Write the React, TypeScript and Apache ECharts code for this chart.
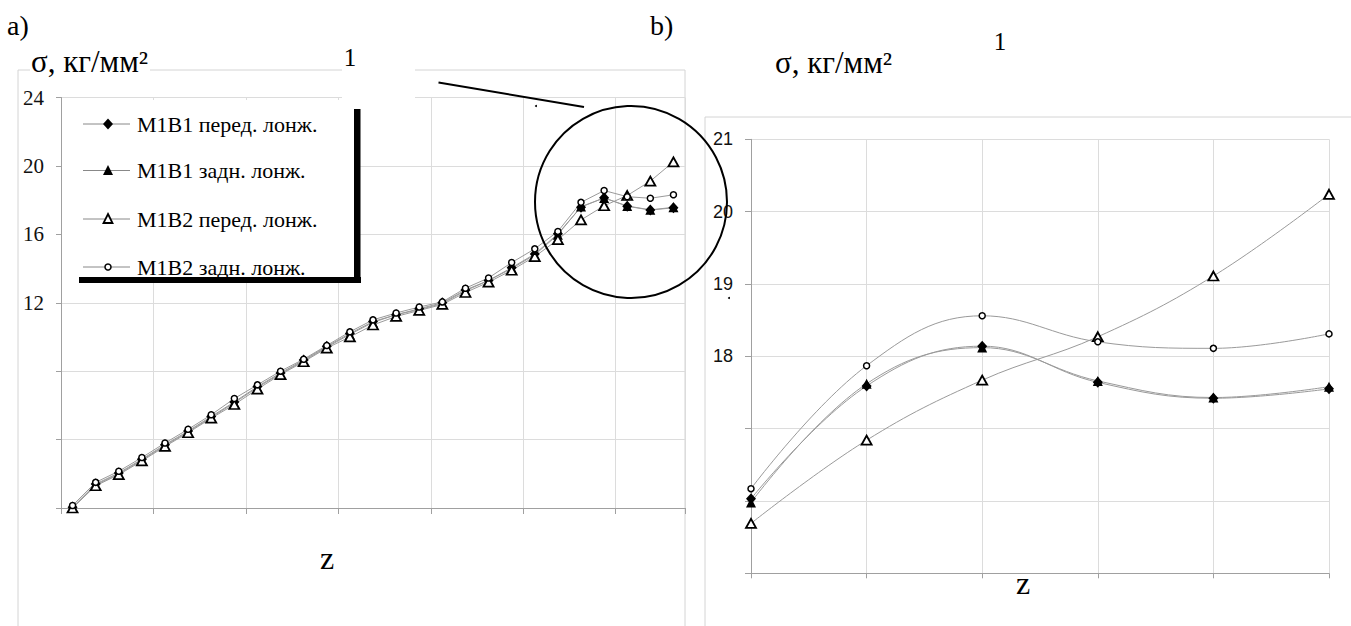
import React, { useEffect, useRef } from 'react';
import * as echarts from 'echarts';

// ---- data ----
const zCategoriesA = ['1','2','3','4','5','6','7','8','9','10','11','12','13','14','15','16','17','18','19','20','21','22','23','24','25','26','27'];
const zoomStart = 21; // chart b shows the last six points

const seriesNames = ['M1B1 перед. лонж.', 'M1B1 задн. лонж.', 'M1B2 перед. лонж.', 'M1B2 задн. лонж.'];

const m1b1Front = [0.05, 1.4, 2.05, 2.85, 3.7, 4.5, 5.35, 6.2, 7.1, 7.9, 8.65, 9.45, 10.2, 10.9, 11.3, 11.65, 12.0, 12.75, 13.3, 14.05, 14.85, 16.03, 17.59, 18.14, 17.64, 17.42, 17.55];
const m1b1Rear = [0.0, 1.35, 2.0, 2.8, 3.65, 4.45, 5.3, 6.15, 7.05, 7.85, 8.6, 9.4, 10.15, 10.85, 11.3, 11.6, 11.95, 12.7, 13.3, 14.0, 14.8, 15.98, 17.62, 18.12, 17.66, 17.43, 17.58];
const m1b2Front = [0.0, 1.3, 1.95, 2.75, 3.6, 4.4, 5.25, 6.05, 6.95, 7.8, 8.55, 9.35, 10.0, 10.7, 11.2, 11.55, 11.9, 12.6, 13.2, 13.9, 14.7, 15.69, 16.84, 17.67, 18.27, 19.11, 20.24];
const m1b2Rear = [0.15, 1.5, 2.15, 2.95, 3.8, 4.6, 5.45, 6.4, 7.2, 8.0, 8.7, 9.5, 10.3, 11.0, 11.4, 11.75, 12.05, 12.85, 13.45, 14.35, 15.15, 16.17, 17.87, 18.56, 18.2, 18.11, 18.31];

const yLabelsA = [12, 16, 20, 24];
const yLabelsB = [18, 19, 20, 21];

const SERIF = 'Liberation Serif, serif';
const SANS = 'Liberation Sans, sans-serif';
const LINE_COLOR = '#9a9a9a';
const GRID_COLOR = '#dcdcdc';
const AXIS_COLOR = '#a0a0a0';

type MarkerDef = { symbol: string; size: number | number[]; itemStyle: any };
const markers: MarkerDef[] = [
  { symbol: 'diamond', size: [10, 11], itemStyle: { color: '#000' } },
  { symbol: 'triangle', size: [10, 10], itemStyle: { color: '#000' } },
  { symbol: 'triangle', size: [10, 9], itemStyle: { color: '#fff', borderColor: '#000', borderWidth: 1.8 } },
  { symbol: 'circle', size: 6, itemStyle: { color: '#fff', borderColor: '#000', borderWidth: 1.5 } },
];

const allData = [m1b1Front, m1b1Rear, m1b2Front, m1b2Rear];

export default function App() {
  const ref = useRef<HTMLDivElement>(null);

  useEffect(() => {
    if (!ref.current) return;
    const chart = echarts.init(ref.current, undefined, { renderer: 'svg' });

    const seriesA = allData.map((d, i) => ({
      type: 'line',
      name: seriesNames[i],
      xAxisIndex: 0,
      yAxisIndex: 0,
      data: d,
      symbol: markers[i].symbol,
      symbolSize: markers[i].size,
      itemStyle: markers[i].itemStyle,
      lineStyle: { color: LINE_COLOR, width: 1 },
      emphasis: { disabled: true },
      z: 3,
    }));
    const seriesB = allData.map((d, i) => ({
      type: 'line',
      name: seriesNames[i] + ' (b)',
      xAxisIndex: 1,
      yAxisIndex: 1,
      data: d.slice(zoomStart),
      smooth: 0.4,
      symbol: markers[i].symbol,
      symbolSize: markers[i].size,
      itemStyle: markers[i].itemStyle,
      lineStyle: { color: LINE_COLOR, width: 1 },
      emphasis: { disabled: true },
      z: 3,
    }));

    const legendRows = [124, 170.5, 219, 267];
    const legendEls: any[] = [];
    legendRows.forEach((y, i) => {
      legendEls.push({ type: 'line', shape: { x1: 83, y1: y, x2: 130, y2: y }, style: { stroke: '#888', lineWidth: 1 }, z: 5 });
      if (i === 0) {
        legendEls.push({ type: 'polygon', shape: { points: [[108, y - 5.5], [113, y], [108, y + 5.5], [103, y]] }, style: { fill: '#000' }, z: 6 });
      } else if (i === 1) {
        legendEls.push({ type: 'polygon', shape: { points: [[108, y - 5.5], [113, y + 4.5], [103, y + 4.5]] }, style: { fill: '#000' }, z: 6 });
      } else if (i === 2) {
        legendEls.push({ type: 'polygon', shape: { points: [[108, y - 5], [112.5, y + 4], [103.5, y + 4]] }, style: { fill: '#fff', stroke: '#000', lineWidth: 1.8 }, z: 6 });
      } else {
        legendEls.push({ type: 'circle', shape: { cx: 108, cy: y, r: 3 }, style: { fill: '#fff', stroke: '#000', lineWidth: 1.5 }, z: 6 });
      }
      legendEls.push({ type: 'text', x: 137, y, style: { text: seriesNames[i], fontFamily: SERIF, fontSize: 22, fill: '#000', align: 'left', verticalAlign: 'middle' }, z: 6 });
    });

    const option: any = {
      animation: false,
      backgroundColor: '#fff',
      textStyle: { fontFamily: SERIF },
      grid: [
        { left: 61, top: 97.5, width: 624, height: 410.5 },
        { left: 751, top: 139.3, width: 578, height: 434 },
      ],
      xAxis: [
        {
          gridIndex: 0,
          type: 'category',
          data: zCategoriesA,
          boundaryGap: true,
          axisLine: { show: true, lineStyle: { color: AXIS_COLOR, width: 1 } },
          axisTick: { show: true, interval: 3, length: 6, lineStyle: { color: AXIS_COLOR } },
          axisLabel: { show: false },
          splitLine: { show: true, interval: 3, lineStyle: { color: GRID_COLOR, width: 1 } },
        },
        {
          gridIndex: 1,
          type: 'category',
          data: zCategoriesA.slice(zoomStart),
          boundaryGap: false,
          axisLine: { show: true, lineStyle: { color: AXIS_COLOR, width: 1 } },
          axisTick: { show: true, length: 5, lineStyle: { color: AXIS_COLOR } },
          axisLabel: { show: false },
          splitLine: { show: true, lineStyle: { color: GRID_COLOR, width: 1 } },
        },
      ],
      yAxis: [
        {
          gridIndex: 0,
          type: 'value',
          min: 0,
          max: 24,
          interval: 4,
          axisLine: { show: true, lineStyle: { color: AXIS_COLOR, width: 1 } },
          axisTick: { show: true, length: 5, lineStyle: { color: AXIS_COLOR } },
          axisLabel: {
            margin: 17,
            fontFamily: SERIF,
            fontSize: 21,
            color: '#111',
            formatter: (v: number) => (yLabelsA.includes(v) ? String(v) : ''),
          },
          splitLine: { show: true, lineStyle: { color: GRID_COLOR, width: 1 } },
        },
        {
          gridIndex: 1,
          type: 'value',
          min: 15,
          max: 21,
          interval: 1,
          axisLine: { show: true, lineStyle: { color: AXIS_COLOR, width: 1 } },
          axisTick: { show: true, length: 6, lineStyle: { color: AXIS_COLOR } },
          axisLabel: {
            margin: 18,
            fontFamily: SANS,
            fontSize: 18,
            color: '#111',
            formatter: (v: number) => (yLabelsB.includes(v) ? String(v) : ''),
          },
          splitLine: { show: true, lineStyle: { color: GRID_COLOR, width: 1 } },
        },
      ],
      series: [...seriesA, ...seriesB],
      graphic: [
        // frames
        { type: 'rect', shape: { x: 18, y: 70, width: 667, height: 600 }, style: { fill: 'none', stroke: '#d4d4d4', lineWidth: 1 }, z: 0 },
        { type: 'rect', shape: { x: 705, y: 117, width: 700, height: 600 }, style: { fill: 'none', stroke: '#d4d4d4', lineWidth: 1 }, z: 0 },
        // white patches
        { type: 'rect', shape: { x: 30, y: 64, width: 120, height: 12 }, style: { fill: '#fff' }, z: 1 },
        { type: 'rect', shape: { x: 342, y: 66, width: 73, height: 41 }, style: { fill: '#fff' }, z: 1 },
        // legend box
        { type: 'rect', shape: { x: 62, y: 100, width: 292, height: 177 }, style: { fill: '#fff' }, z: 4 },
        { type: 'rect', shape: { x: 354, y: 109, width: 6.5, height: 174 }, style: { fill: '#000' }, z: 5 },
        { type: 'rect', shape: { x: 79, y: 277, width: 282, height: 6 }, style: { fill: '#000' }, z: 5 },
        ...legendEls,
        // labels
        { type: 'text', x: 7, y: 25, style: { text: 'a)', fontFamily: SERIF, fontSize: 28, fill: '#000', align: 'left', verticalAlign: 'middle' }, z: 6 },
        { type: 'text', x: 650, y: 25, style: { text: 'b)', fontFamily: SERIF, fontSize: 28, fill: '#000', align: 'left', verticalAlign: 'middle' }, z: 6 },
        { type: 'text', x: 31, y: 61.5, style: { text: 'σ, кг/мм²', fontFamily: SERIF, fontSize: 31, fill: '#000', align: 'left', verticalAlign: 'middle' }, z: 6 },
        { type: 'text', x: 775, y: 62.8, style: { text: 'σ, кг/мм²', fontFamily: SERIF, fontSize: 31, fill: '#000', align: 'left', verticalAlign: 'middle' }, z: 6 },
        { type: 'text', x: 350, y: 57.5, style: { text: '1', fontFamily: SERIF, fontSize: 25, fill: '#000', align: 'center', verticalAlign: 'middle' }, z: 6 },
        { type: 'text', x: 1000, y: 41.3, style: { text: '1', fontFamily: SERIF, fontSize: 25, fill: '#000', align: 'center', verticalAlign: 'middle' }, z: 6 },
        { type: 'text', x: 327, y: 558, style: { text: 'z', fontFamily: SERIF, fontSize: 32, fill: '#000', align: 'center', verticalAlign: 'middle' }, z: 6 },
        { type: 'text', x: 1023, y: 582.5, style: { text: 'z', fontFamily: SERIF, fontSize: 32, fill: '#000', align: 'center', verticalAlign: 'middle' }, z: 6 },
        // callout
        { type: 'line', shape: { x1: 438.5, y1: 82.5, x2: 584, y2: 107 }, style: { stroke: '#000', lineWidth: 2 }, z: 7 },
        { type: 'circle', shape: { cx: 631, cy: 202, r: 96 }, style: { fill: 'none', stroke: '#000', lineWidth: 2 }, z: 7 },
        { type: 'circle', shape: { cx: 536, cy: 106, r: 1 }, style: { fill: '#000' }, z: 7 },
        { type: 'circle', shape: { cx: 729, cy: 298, r: 1 }, style: { fill: '#000' }, z: 7 },
      ],
    };

    chart.setOption(option);
    return () => chart.dispose();
  }, []);

  return (
    <div
      ref={ref}
      style={{ position: 'fixed', left: 0, top: 0, width: 1351, height: 626 }}
    />
  );
}
